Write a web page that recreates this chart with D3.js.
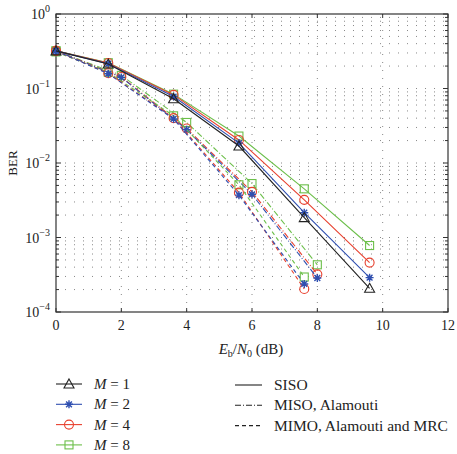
<!DOCTYPE html>
<html><head><meta charset="utf-8">
<script src="https://cdn.jsdelivr.net/npm/d3@7"></script>
<style>
body{margin:0;background:#fff;}
text{font-family:"Liberation Serif","DejaVu Serif",serif;fill:#222;}
</style></head>
<body><svg id="c" width="457" height="454"></svg>
<script>
// ---- data ----
const snrSISO = [0, 1.6, 3.6, 5.6, 7.6, 9.6];
const snrMIMO = [0, 1.6, 3.6, 5.6, 7.6];
const snrMISO = [0, 2, 4, 6, 8];
const orders = ["1", "2", "4", "8"];
const berSISO = {
  "1": [0.32, 0.213, 0.073, 0.0169, 0.00185, 0.000208],
  "2": [0.32, 0.215, 0.078, 0.0185, 0.00215, 0.000289],
  "4": [0.32, 0.22, 0.082, 0.0204, 0.0032, 0.00046],
  "8": [0.32, 0.222, 0.084, 0.023, 0.0045, 0.00078]
};
const berMIMO = {
  "2": [0.32, 0.158, 0.039, 0.0037, 0.000238],
  "4": [0.32, 0.16, 0.040, 0.0040, 0.000204],
  "8": [0.31, 0.165, 0.043, 0.0051, 0.000295]
};
const berMISO = {
  "2": [0.32, 0.141, 0.028, 0.0038, 0.000286],
  "4": [0.32, 0.143, 0.029, 0.0041, 0.00032],
  "8": [0.32, 0.15, 0.035, 0.0053, 0.00043]
};
const xTicks = [0, 2, 4, 6, 8, 10, 12];
const yExps = [0, -1, -2, -3, -4];
const schemeLabels = ["SISO", "MISO, Alamouti", "MIMO, Alamouti and MRC"];

// ---- styles ----
const colors = {"1": "#222", "2": "#2f4fb0", "4": "#e8402e", "8": "#6cbf4a"};
const markers = {"1": "triangle", "2": "star", "4": "circle", "8": "square"};
const dashes = {SISO: null, MISO: "6,2,1,2", MIMO: "4,3"};

const svg = d3.select("#c");
const L = 56, R = 448, T = 14, B = 312;
const x = d3.scaleLinear().domain([0, 12]).range([L, R]);
const y = d3.scaleLog().domain([1e-4, 1]).range([B, T]);

// grid
const g = svg.append("g");
const minor = [];
for (let e = -4; e < 0; e++) for (let k = 1; k <= 9; k++) minor.push(k * Math.pow(10, e));
minor.push(1);
g.selectAll(".hg").data(minor.filter(v => v > 1e-4 && v < 1)).enter().append("line")
  .attr("x1", L).attr("x2", R).attr("y1", d => y(d)).attr("y2", d => y(d))
  .attr("stroke", "#888").attr("stroke-width", 1).attr("stroke-dasharray", "1,8");
g.selectAll(".vg").data(xTicks.slice(1, -1)).enter().append("line")
  .attr("x1", d => x(d)).attr("x2", d => x(d)).attr("y1", T).attr("y2", B)
  .attr("stroke", "#888").attr("stroke-width", 1).attr("stroke-dasharray", "1,7");

// ticks
const tk = svg.append("g").attr("stroke", "#333").attr("stroke-width", 1);
xTicks.forEach(v => {
  tk.append("line").attr("x1", x(v)).attr("x2", x(v)).attr("y1", B).attr("y2", B - 4);
  tk.append("line").attr("x1", x(v)).attr("x2", x(v)).attr("y1", T).attr("y2", T + 4);
});
minor.forEach(v => {
  const major = Math.abs(Math.log10(v) - Math.round(Math.log10(v))) < 1e-9;
  const len = major ? 5 : 3;
  tk.append("line").attr("x1", L).attr("x2", L + len).attr("y1", y(v)).attr("y2", y(v));
  tk.append("line").attr("x1", R).attr("x2", R - len).attr("y1", y(v)).attr("y2", y(v));
});

// frame
svg.append("rect").attr("x", L).attr("y", T).attr("width", R - L).attr("height", B - T)
  .attr("fill", "none").attr("stroke", "#333").attr("stroke-width", 1.2);

// tick labels
svg.selectAll(".xl").data(xTicks).enter().append("text")
  .attr("x", d => x(d)).attr("y", B + 18).attr("text-anchor", "middle")
  .attr("font-size", 14).text(d => d);
yExps.forEach(e => {
  const t = svg.append("text").attr("x", 50).attr("y", y(Math.pow(10, e)) + 5)
    .attr("text-anchor", "end").attr("font-size", 14);
  t.append("tspan").text("10");
  t.append("tspan").attr("dy", -7).attr("font-size", 10).text(e === 0 ? "0" : "\u2212" + (-e));
});

// axis titles
svg.append("text").attr("transform", "translate(17,163) rotate(-90)")
  .attr("text-anchor", "middle").attr("font-size", 13).text("BER");
const xt = svg.append("text").attr("x", 251).attr("y", 354).attr("text-anchor", "middle").attr("font-size", 15);
xt.append("tspan").attr("font-style", "italic").text("E");
xt.append("tspan").attr("dy", 3).attr("font-size", 10).text("b");
xt.append("tspan").attr("dy", -3).text("/");
xt.append("tspan").attr("font-style", "italic").text("N");
xt.append("tspan").attr("dy", 3).attr("font-size", 10).text("0");
xt.append("tspan").attr("dy", -3).text(" (dB)");

// marker drawer
function drawMarker(sel, type, cx, cy, col) {
  if (type === "triangle") {
    sel.append("path").attr("d", `M${cx},${cy - 5}L${cx + 5},${cy + 4}L${cx - 5},${cy + 4}Z`)
      .attr("fill", "none").attr("stroke", col).attr("stroke-width", 1.1);
  } else if (type === "circle") {
    sel.append("circle").attr("cx", cx).attr("cy", cy).attr("r", 4.5)
      .attr("fill", "none").attr("stroke", col).attr("stroke-width", 1.1);
  } else if (type === "square") {
    sel.append("rect").attr("x", cx - 4).attr("y", cy - 4).attr("width", 8).attr("height", 8)
      .attr("fill", "none").attr("stroke", col).attr("stroke-width", 1.1);
  } else {
    const r = 4, d = 2.9;
    sel.append("path").attr("d",
      `M${cx - r},${cy}L${cx + r},${cy}M${cx},${cy - r}L${cx},${cy + r}M${cx - d},${cy - d}L${cx + d},${cy + d}M${cx - d},${cy + d}L${cx + d},${cy - d}`)
      .attr("stroke", col).attr("stroke-width", 1.4);
  }
}

const line = d3.line().x(d => x(d[0])).y(d => y(d[1]));
const plot = svg.append("g");
function series(xs, ys, m, dash) {
  const pts = xs.map((v, i) => [v, ys[i]]);
  plot.append("path").attr("d", line(pts)).attr("fill", "none")
    .attr("stroke", colors[m]).attr("stroke-width", 1.1)
    .attr("stroke-dasharray", dash);
  pts.forEach(p => drawMarker(plot, markers[m], x(p[0]), y(p[1]), colors[m]));
}
["8", "4", "2"].forEach(m => series(snrMISO, berMISO[m], m, dashes.MISO));
["8", "4", "2"].forEach(m => series(snrMIMO, berMIMO[m], m, dashes.MIMO));
["8", "4", "2", "1"].forEach(m => series(snrSISO, berSISO[m], m, dashes.SISO));

// legend
const lg = svg.append("g");
orders.forEach((m, i) => {
  const ly = 384 + i * 20.3;
  lg.append("line").attr("x1", 56).attr("x2", 82).attr("y1", ly).attr("y2", ly)
    .attr("stroke", colors[m]).attr("stroke-width", 1.1);
  drawMarker(lg, markers[m], 69, ly, colors[m]);
  const t = lg.append("text").attr("x", 94).attr("y", ly + 5).attr("font-size", 15);
  t.append("tspan").attr("font-style", "italic").text("M");
  t.append("tspan").text(" = " + m);
});
const schemeDash = [dashes.SISO, dashes.MISO, dashes.MIMO];
schemeLabels.forEach((s, i) => {
  const ly = 385 + i * 20.3;
  lg.append("line").attr("x1", 235).attr("x2", 262).attr("y1", ly).attr("y2", ly)
    .attr("stroke", "#222").attr("stroke-width", 1.1).attr("stroke-dasharray", schemeDash[i]);
  lg.append("text").attr("x", 274).attr("y", ly + 5).attr("font-size", 15.5).text(s);
});
</script></body></html>
